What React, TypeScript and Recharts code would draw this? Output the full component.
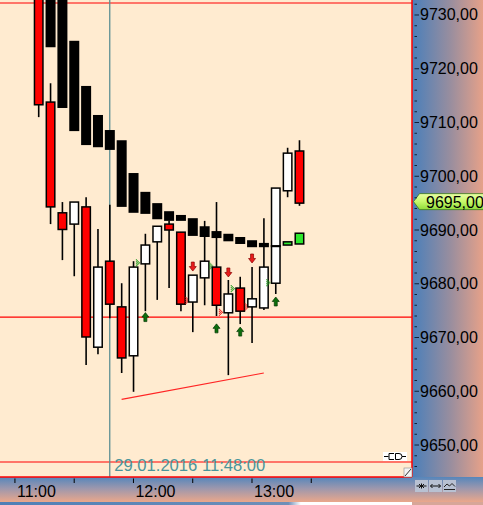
import React from 'react';
import { ComposedChart, Bar, XAxis, YAxis, ReferenceLine, CartesianGrid } from 'recharts';

const FONT = '"Liberation Sans", Arial, sans-serif';
const W = 483;
const H = 505;

// 6-minute slots on the time axis
const slotTimes = [
  '11:00', '11:06', '11:12', '11:18', '11:24', '11:30', '11:36', '11:42', '11:48', '11:54',
  '12:00', '12:06', '12:12', '12:18', '12:24', '12:30', '12:36', '12:42', '12:48', '12:54',
  '13:00', '13:06', '13:12', '13:18', '13:24', '13:30', '13:36', '13:42', '13:48', '13:54',
  '14:00', '14:06', '14:12', '14:18',
];
// time-axis marks: short ticks every half hour, labels on the hour
const tickTimes = ['11:00', '11:30', '12:00', '12:30', '13:00', '13:30'];
const labelTimes = ['11:00', '12:00', '13:00'];

// OHLC candles
const barTimes = [
  '11:12', '11:18', '11:24', '11:30', '11:36', '11:42', '11:48', '11:54', '12:00', '12:06',
  '12:12', '12:18', '12:24', '12:30', '12:36', '12:42', '12:48', '12:54', '13:00', '13:06',
  '13:12', '13:18', '13:24',
];
const opens = [
  9736.0, 9713.8, 9693.2, 9691.1, 9694.3, 9668.2, 9684.2, 9675.7, 9666.6, 9683.7,
  9687.8, 9691.1, 9689.6, 9676.6, 9681.1, 9683.1, 9674.6, 9679.2, 9675.7, 9675.5,
  9680.1, 9697.3, 9704.7,
];
const highs = [
  9738.0, 9717.3, 9695.2, 9695.2, 9696.1, 9690.2, 9694.7, 9680.1, 9684.2, 9689.3,
  9690.7, 9691.7, 9689.6, 9681.6, 9691.7, 9695.2, 9680.7, 9681.3, 9683.1, 9692.2,
  9697.8, 9705.3, 9706.7,
];
const lows = [
  9711.0, 9691.1, 9684.4, 9681.4, 9664.9, 9666.9, 9673.6, 9663.4, 9659.9, 9674.9,
  9677.0, 9679.2, 9674.9, 9671.0, 9676.0, 9674.0, 9663.0, 9672.5, 9669.0, 9675.1,
  9678.1, 9696.1, 9694.5,
];
const closes = [
  9713.3, 9694.3, 9690.1, 9695.2, 9670.1, 9683.1, 9676.2, 9666.2, 9683.1, 9687.2,
  9690.7, 9690.0, 9676.2, 9681.6, 9684.2, 9676.0, 9678.1, 9674.9, 9677.2, 9683.1,
  9697.8, 9704.3, 9695.0,
];

// trailing band boxes; the last two are still forming
const bandLows = [
  null, 9724.0, 9712.7, 9708.4, 9705.8, 9705.4, 9704.9, 9694.3, 9693.2, 9693.0,
  9692.0, 9691.7, 9691.7, 9688.9, 9688.7, 9688.5, 9687.9, 9687.4, 9686.8, 9686.8,
  9686.8, 9687.2, 9687.4,
];
const bandHighs = [
  null, 9736.0, 9733.5, 9725.2, 9716.8, 9711.4, 9708.6, 9706.7, 9700.6, 9697.1,
  9695.0, 9693.5, 9692.8, 9692.2, 9690.7, 9689.8, 9689.3, 9688.7, 9688.1, 9687.6,
  9687.2, 9687.8, 9689.4,
];
const formingBands = ['13:18', '13:24'];

// signal arrows
const sellSignals = [
  { time: '12:30', price: 9683.2 },
  { time: '12:48', price: 9682.1 },
  { time: '13:00', price: 9684.7 },
];
const buySignals = [
  { time: '12:06', price: 9673.8 },
  { time: '12:42', price: 9671.7 },
  { time: '12:54', price: 9671.1 },
  { time: '13:12', price: 9676.7 },
];

// small pattern flags beside the candles
const flags = [
  { time: '12:06', side: 'left', price: 9683.9, bull: true },
  { time: '12:24', side: 'right', price: 9676.9, bull: false },
  { time: '12:36', side: 'right', price: 9683.3, bull: true },
  { time: '12:48', side: 'left', price: 9674.7, bull: false },
  { time: '12:54', side: 'left', price: 9679.1, bull: true },
  { time: '12:54', side: 'right', price: 9675.7, bull: false },
  { time: '13:12', side: 'left', price: 9680.2, bull: true },
];

// horizontal levels, trend line and cursor
const levels = [9732.23, 9673.81, 9646.84];
const trendFrom = { time: '11:54', price: 9658.5 };
const trendTo = { time: '13:06', price: 9663.4 };
const cursorTime = '11:48';
const cursorLabel = '29.01.2016 11:48:00';
const lastPrice = 9695.0;

const priceMin = 9644.05;
const priceMax = 9732.79;
const priceTicks = [
  9646, 9648, 9650, 9652, 9654, 9656, 9658, 9660, 9662, 9664, 9666, 9668, 9670, 9672, 9674,
  9676, 9678, 9680, 9682, 9684, 9686, 9688, 9690, 9692, 9694, 9696, 9698, 9700, 9702, 9704,
  9706, 9708, 9710, 9712, 9714, 9716, 9718, 9720, 9722, 9724, 9726, 9728, 9730, 9732,
];

type Row = {
  time: string;
  open?: number;
  high?: number;
  low?: number;
  close?: number;
  bandLow?: number | null;
  bandHigh?: number | null;
  forming?: boolean;
  sell?: number;
  buy?: number;
  flags?: { side: string; price: number; bull: boolean }[];
};

const rows: Row[] = slotTimes.map((time) => {
  const i = barTimes.indexOf(time);
  if (i < 0) return { time };
  const sell = sellSignals.find((s) => s.time === time);
  const buy = buySignals.find((s) => s.time === time);
  return {
    time,
    open: opens[i],
    high: highs[i],
    low: lows[i],
    close: closes[i],
    bandLow: bandLows[i],
    bandHigh: bandHighs[i],
    forming: formingBands.includes(time),
    sell: sell ? sell.price : undefined,
    buy: buy ? buy.price : undefined,
    flags: flags.filter((f) => f.time === time),
  };
});

const fmtPrice = (v: number) => v.toFixed(2).replace('.', ',');

// right-pointing checkered flag, 5 px wide, 7 px tall
function Checker({ x0, cy, color }: { x0: number; cy: number; color: string }) {
  const cells: React.ReactNode[] = [];
  for (let r = 0; r < 7; r++) {
    const w = r <= 3 ? r + 2 : 8 - r;
    for (let c = 0; c < w; c++) {
      if ((r + c) % 2 === 0) {
        cells.push(
          <rect key={`${r}-${c}`} x={x0 + c} y={cy - 3.5 + r} width={1.1} height={1.1} fill={color} />
        );
      }
    }
  }
  return <g>{cells}</g>;
}

function CandleShape(props: any) {
  const { x, y, width, height, payload } = props;
  if (!payload || payload.open == null) return <g />;
  const { open, high, low, close } = payload as Required<Row>;
  const top = Math.min(y, y + height);
  const span = Math.abs(height);
  const k = high - low > 0 ? span / (high - low) : 0;
  const py = (v: number) => top + (high - v) * k;
  const cx = x + width / 2;
  const bodyTop = py(Math.max(open, close));
  const bodyBot = py(Math.min(open, close));
  const up = close >= open;
  const parts: React.ReactNode[] = [];

  parts.push(<line key="wick" x1={cx} x2={cx} y1={py(high)} y2={py(low)} stroke="#000" strokeWidth={1.6} />);
  parts.push(
    <rect
      key="body"
      x={x + 0.75}
      y={bodyTop}
      width={width - 1.5}
      height={Math.max(bodyBot - bodyTop, 1)}
      fill={up ? '#ffffff' : '#ff0000'}
      stroke="#000"
      strokeWidth={1.5}
    />
  );

  if (payload.bandLow != null && payload.bandHigh != null) {
    const bt = py(payload.bandHigh);
    const bb = py(payload.bandLow);
    parts.push(
      payload.forming ? (
        <rect key="band" x={x + 0.75} y={bt} width={width - 1.5} height={Math.max(bb - bt, 1.5)} fill="#2ee82e" stroke="#000" strokeWidth={1.5} />
      ) : (
        <rect key="band" x={x} y={bt} width={width} height={Math.max(bb - bt, 2)} fill="#000" />
      )
    );
  }

  if (payload.sell != null) {
    const ay = py(payload.sell);
    parts.push(
      <path
        key="sell"
        d={`M${cx - 1.5},${ay - 4.5} H${cx + 1.5} V${ay} H${cx + 3.5} L${cx},${ay + 4.5} L${cx - 3.5},${ay} H${cx - 1.5} Z`}
        fill="#e81c1c"
        stroke="#8a0000"
        strokeWidth={0.7}
      />
    );
  }
  if (payload.buy != null) {
    const ay = py(payload.buy);
    parts.push(
      <path
        key="buy"
        d={`M${cx - 1.5},${ay + 4.5} H${cx + 1.5} V${ay} H${cx + 3.5} L${cx},${ay - 4.5} L${cx - 3.5},${ay} H${cx - 1.5} Z`}
        fill="#0c6e0c"
        stroke="#053805"
        strokeWidth={0.7}
      />
    );
  }
  (payload.flags || []).forEach((f: { side: string; price: number; bull: boolean }, j: number) => {
    const fy = py(f.price);
    const x0 = f.side === 'left' ? x - 4.5 : x + width - 0.5;
    parts.push(<Checker key={`flag${j}`} x0={x0} cy={fy} color={f.bull ? '#169616' : '#f01818'} />);
  });

  return <g>{parts}</g>;
}

function TimeTick(props: any) {
  const { x, y, payload } = props;
  const t: string = payload.value;
  if (!tickTimes.includes(t)) return <g />;
  return (
    <g>
      <line x1={x} x2={x} y1={y + 1.5} y2={y + 6} stroke="#000" strokeWidth={1} />
      {labelTimes.includes(t) && (
        <text x={x + 2} y={y + 20} fontSize={16} fontFamily={FONT} fill="#000">
          {t}
        </text>
      )}
    </g>
  );
}

function PriceTick(props: any) {
  const { x, y, payload } = props;
  const v: number = payload.value;
  const major = v % 10 === 0;
  return (
    <g>
      <line x1={x + 2.5} x2={x + (major ? 7 : 5)} y1={y} y2={y} stroke="#10203a" strokeWidth={1} />
      {major && (
        <text x={x + 8} y={y + 5.5} fontSize={16} fontFamily={FONT} fill="#000">
          {fmtPrice(v)}
        </text>
      )}
    </g>
  );
}

function CursorLabel(props: any) {
  const vb = props.viewBox || {};
  return (
    <text x={vb.x + 4.5} y={vb.y + vb.height - 6} fontSize={16.6} fontFamily={FONT} fill="#4a959b">
      {cursorLabel}
    </text>
  );
}

function PriceTag(props: any) {
  const vb = props.viewBox || {};
  const right = vb.x + vb.width;
  const cy = vb.y - 1.5;
  const x0 = right + 1.5;
  return (
    <g>
      <path
        d={`M${x0},${cy} L${x0 + 6},${cy - 8} H${x0 + 80} V${cy + 8} H${x0 + 6} Z`}
        fill="url(#tagFill)"
        stroke="#3b7a1c"
        strokeWidth={0.8}
      />
      <text x={x0 + 12.5} y={cy + 6} fontSize={16} fontFamily={FONT} fill="#000">
        {fmtPrice(lastPrice)}
      </text>
    </g>
  );
}

export default function App() {
  return (
    <div style={{ position: 'absolute', left: 0, top: 0, width: W, height: H, overflow: 'hidden' }}>
      <div
        style={{
          position: 'absolute', left: 412, top: 0, width: 71, height: H,
          background: 'linear-gradient(to right, #4a7fba, #9a8e9e 55%, #e6a189)',
        }}
      />
      <div
        style={{
          position: 'absolute', left: 0, top: 477, width: W, height: 25,
          background: 'linear-gradient(to bottom, #5686bb, #9c97ad 45%, #eaa78b)',
        }}
      />
      <div
        style={{
          position: 'absolute', left: 0, top: 502, width: 412, height: 3,
          background: 'linear-gradient(to right, #4f7fb6, #6f8fb8 70%, #ffffff 73%, #ffffff)',
        }}
      />
      <div
        style={{
          position: 'absolute', left: 412, top: 502, width: 71, height: 3,
          background: '#d7a698',
        }}
      />
      <div style={{ position: 'absolute', left: 0, top: 0 }}>
        <ComposedChart width={W} height={H} data={rows} margin={{ top: 0, right: 0, bottom: 0, left: 0 }}>
          <defs>
            <linearGradient id="tagFill" x1="0" y1="0" x2="0" y2="1">
              <stop offset="0%" stopColor="#e9ffa6" />
              <stop offset="50%" stopColor="#c6f86a" />
              <stop offset="100%" stopColor="#8fdc3a" />
            </linearGradient>
          </defs>
          <CartesianGrid fill="#ffebd0" horizontal={false} vertical={false} />
          <XAxis
            dataKey="time"
            type="category"
            interval={0}
            height={28}
            padding={{ left: 9, right: 0 }}
            axisLine={{ stroke: '#ff0000', strokeWidth: 1.5 }}
            tickLine={false}
            tickSize={0}
            tickMargin={0}
            tick={TimeTick}
          />
          <YAxis
            orientation="right"
            type="number"
            domain={[priceMin, priceMax]}
            allowDataOverflow
            ticks={priceTicks}
            interval={0}
            width={71}
            axisLine={{ stroke: '#ff0000', strokeWidth: 1.5 }}
            tickLine={false}
            tickSize={0}
            tickMargin={0}
            tick={PriceTick}
          />
          {levels.map((lv) => (
            <ReferenceLine key={lv} y={lv} stroke="#ff0000" strokeWidth={1.2} zIndex={-50} />
          ))}
          <ReferenceLine x={cursorTime} stroke="#5e8f93" strokeWidth={1.3} label={CursorLabel} zIndex={-50} />
          <ReferenceLine
            segment={[
              { x: trendFrom.time, y: trendFrom.price },
              { x: trendTo.time, y: trendTo.price },
            ]}
            stroke="#ff2424"
            strokeWidth={1.2}
            zIndex={-50}
          />
          <Bar
            dataKey={(d: Row) => (d.low == null ? null : [d.low, d.high])}
            barSize={10}
            shape={CandleShape}
            isAnimationActive={false}
          />
          <ReferenceLine y={lastPrice} stroke="none" label={PriceTag} />
        </ComposedChart>
      </div>
      <svg
        width={W}
        height={H}
        style={{ position: 'absolute', left: 0, top: 0, pointerEvents: 'none' }}
      >
        {/* connection indicator */}
        <rect x={383} y={452} width={24} height={9} fill="#ffffff" />
        <path
          d="M384,456.5 H388.5 M394,453.5 H389 V459.5 H394 M395.5,453.5 H399 Q402,453.5 402,456.5 Q402,459.5 399,459.5 H395.5 Z M402,456.5 H406"
          fill="none"
          stroke="#000"
          strokeWidth={1}
        />
        {/* resize grip */}
        <rect x={404} y={468} width={8} height={9} fill="#f4f4f4" stroke="#8a8a8a" strokeWidth={0.6} />
        <line x1={405} y1={476} x2={411} y2={469} stroke="#333" strokeWidth={1} />
        {/* corner buttons */}
        <g>
          <rect x={415} y={480} width={13} height={12} fill="#b8c1d2" />
          <path d="M416.5,486 H426.5 M419,484 L421,486 L419,488 M424,484 L422,486 L424,488 M421.5,483.5 V488.5" stroke="#111" strokeWidth={1} fill="none" />
          <rect x={429} y={480} width={13} height={12} fill="#b8c1d2" />
          <path d="M430.5,486 H440.5 M432.5,484 L430.5,486 L432.5,488 M438.5,484 L440.5,486 L438.5,488" stroke="#111" strokeWidth={1} fill="none" />
          <rect x={443} y={480} width={13} height={12} fill="#b8c1d2" />
          <path d="M444,487 L447,484 L449.5,486 L452,483.5 L455,486.5 M444,489.5 H455" stroke="#222" strokeWidth={1} fill="none" />
        </g>
      </svg>
    </div>
  );
}
